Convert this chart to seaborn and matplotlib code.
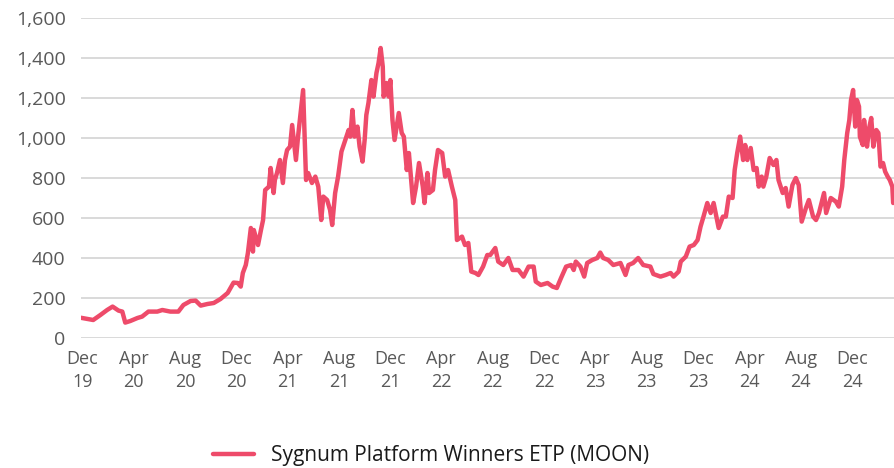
import matplotlib
matplotlib.use("Agg")
import matplotlib.pyplot as plt
import matplotlib.dates as mdates
from matplotlib.ticker import FuncFormatter, MultipleLocator
import seaborn as sns
import pandas as pd

# price index of the ETP
dates = [
    "2019-11-28", "2019-12-27", "2020-01-13", "2020-01-29", "2020-02-11", "2020-02-25",
    "2020-03-05", "2020-03-12", "2020-03-24", "2020-04-10", "2020-04-21", "2020-05-06",
    "2020-05-27", "2020-06-08", "2020-06-27", "2020-07-16", "2020-07-28", "2020-08-14",
    "2020-08-26", "2020-09-07", "2020-09-23", "2020-10-08", "2020-10-24", "2020-11-10",
    "2020-11-24", "2020-12-04", "2020-12-11", "2020-12-16", "2020-12-23", "2020-12-28",
    "2021-01-04", "2021-01-09", "2021-01-11", "2021-01-21", "2021-01-28", "2021-02-02",
    "2021-02-07", "2021-02-16", "2021-02-20", "2021-02-27", "2021-03-02", "2021-03-07",
    "2021-03-14", "2021-03-21", "2021-03-26", "2021-03-31", "2021-04-07", "2021-04-12",
    "2021-04-21", "2021-04-26", "2021-05-03", "2021-05-08", "2021-05-15", "2021-05-20",
    "2021-05-29", "2021-06-06", "2021-06-13", "2021-06-20", "2021-06-25", "2021-07-04",
    "2021-07-11", "2021-07-16", "2021-07-23", "2021-07-30", "2021-08-07", "2021-08-16",
    "2021-08-24", "2021-08-28", "2021-09-02", "2021-09-07", "2021-09-14", "2021-09-19",
    "2021-09-26", "2021-10-01", "2021-10-05", "2021-10-10", "2021-10-17", "2021-10-22",
    "2021-10-29", "2021-11-03", "2021-11-08", "2021-11-13", "2021-11-15", "2021-11-22",
    "2021-11-27", "2021-12-01", "2021-12-06", "2021-12-11", "2021-12-16", "2021-12-21",
    "2021-12-28", "2022-01-02", "2022-01-09", "2022-01-14", "2022-01-24", "2022-01-31",
    "2022-02-07", "2022-02-16", "2022-02-20", "2022-02-27", "2022-03-03", "2022-03-12",
    "2022-03-17", "2022-03-24", "2022-04-03", "2022-04-10", "2022-04-17", "2022-04-26",
    "2022-05-04", "2022-05-08", "2022-05-20", "2022-05-27", "2022-06-04", "2022-06-11",
    "2022-06-21", "2022-06-28", "2022-07-09", "2022-07-19", "2022-07-26", "2022-08-07",
    "2022-08-14", "2022-08-26", "2022-09-07", "2022-09-17", "2022-10-01", "2022-10-13",
    "2022-10-25", "2022-11-06", "2022-11-11", "2022-11-23", "2022-12-09", "2022-12-21",
    "2022-12-31", "2023-01-10", "2023-01-22", "2023-02-03", "2023-02-09", "2023-02-14",
    "2023-02-25", "2023-03-06", "2023-03-13", "2023-03-25", "2023-04-06", "2023-04-13",
    "2023-04-20", "2023-05-02", "2023-05-14", "2023-05-31", "2023-06-12", "2023-06-19",
    "2023-06-30", "2023-07-12", "2023-07-24", "2023-08-10", "2023-08-17", "2023-09-03",
    "2023-09-15", "2023-09-27", "2023-10-04", "2023-10-16", "2023-10-21", "2023-11-02",
    "2023-11-11", "2023-11-21", "2023-11-30", "2023-12-07", "2023-12-14", "2023-12-23",
    "2023-12-31", "2024-01-07", "2024-01-19", "2024-01-29", "2024-02-05", "2024-02-12",
    "2024-02-21", "2024-02-26", "2024-03-03", "2024-03-10", "2024-03-17", "2024-03-22",
    "2024-03-27", "2024-04-04", "2024-04-11", "2024-04-18", "2024-04-23", "2024-04-30",
    "2024-05-04", "2024-05-11", "2024-05-19", "2024-05-28", "2024-06-04", "2024-06-09",
    "2024-06-19", "2024-06-26", "2024-07-03", "2024-07-12", "2024-07-20", "2024-07-27",
    "2024-08-03", "2024-08-13", "2024-08-20", "2024-08-30", "2024-09-06", "2024-09-13",
    "2024-09-25", "2024-09-30", "2024-10-11", "2024-10-23", "2024-10-30", "2024-11-07",
    "2024-11-12", "2024-11-19", "2024-11-24", "2024-11-28", "2024-12-03", "2024-12-08",
    "2024-12-12", "2024-12-17", "2024-12-19", "2024-12-26", "2024-12-29", "2025-01-05",
    "2025-01-10", "2025-01-15", "2025-01-20", "2025-01-27", "2025-02-01", "2025-02-06",
    "2025-02-12", "2025-02-17", "2025-02-23", "2025-02-28", "2025-03-06", "2025-03-08",
]
values = [
    101, 90, 115, 140, 157, 137,
    132, 77, 85, 100, 107, 132,
    132, 140, 132, 132, 165, 185,
    187, 162, 170, 175, 195, 225,
    277, 275, 257, 325, 365, 425,
    550, 432, 540, 465, 540, 590,
    740, 757, 850, 725, 790, 825,
    890, 775, 890, 940, 957, 1065,
    890, 1007, 1140, 1240, 790, 825,
    775, 807, 757, 590, 707, 690,
    640, 565, 725, 807, 932, 990,
    1040, 1007, 1140, 1007, 1057, 957,
    882, 990, 1115, 1175, 1290, 1207,
    1325, 1375, 1450, 1357, 1207, 1275,
    1207, 1290, 1090, 990, 1057, 1125,
    1025, 1007, 840, 925, 675, 757,
    875, 757, 675, 825, 725, 740,
    840, 940, 925, 807, 840, 757,
    690, 490, 507, 465, 475, 332,
    325, 315, 357, 415, 415, 450,
    382, 365, 400, 340, 340, 307,
    357, 357, 282, 265, 275, 257,
    250, 300, 357, 365, 340, 382,
    357, 307, 375, 390, 400, 427,
    400, 390, 365, 375, 315, 365,
    375, 400, 365, 357, 320, 307,
    315, 325, 307, 332, 382, 407,
    457, 465, 490, 557, 607, 675,
    625, 675, 550, 607, 607, 707,
    700, 840, 925, 1007, 890, 965,
    890, 950, 840, 850, 757, 807,
    757, 807, 900, 865, 890, 790,
    725, 750, 657, 765, 800, 765,
    582, 650, 690, 607, 590, 625,
    725, 625, 700, 682, 657, 757,
    890, 1025, 1090, 1190, 1240, 1057,
    1190, 1157, 1007, 965, 1090, 957,
    1050, 1100, 957, 1040, 1025, 857,
    875, 832, 807, 790, 757, 675,
]
series_name = "Sygnum Platform Winners ETP (MOON)"

df = pd.DataFrame({"date": pd.to_datetime(dates), "value": values, "series": series_name})

sns.set_style("white")
plt.rcParams["font.family"] = ["Open Sans", "DejaVu Sans"]

fig = plt.figure(figsize=(8.94, 4.68), dpi=100)
ax = fig.add_axes([0.0906, 0.2778, 0.9094, 0.6837])

sns.lineplot(data=df, x="date", y="value", hue="series", palette=["#EE4B6A"],
             linewidth=3.2, ax=ax, legend=True)

ax.set_ylim(0, 1600)
ax.set_xlim(pd.Timestamp("2019-11-28"), pd.Timestamp("2025-03-10"))
ax.yaxis.set_major_locator(MultipleLocator(200))
ax.yaxis.set_major_formatter(FuncFormatter(lambda v, p: f"{int(v):,}"))
ax.xaxis.set_major_locator(mdates.MonthLocator(bymonth=[4, 8, 12], bymonthday=1))
ax.xaxis.set_major_formatter(mdates.DateFormatter("%b\n%y"))

ax.grid(axis="y", color="#D9D9D9", linewidth=1.4)
ax.grid(axis="x", visible=False)
ax.set_axisbelow(True)
for s in ax.spines.values():
    s.set_visible(False)
ax.tick_params(axis="both", length=0, labelcolor="#595959")
ax.tick_params(axis="x", pad=9, labelsize=13)
ax.tick_params(axis="y", pad=11, labelsize=14)
for lbl in ax.get_xticklabels():
    lbl.set_linespacing(1.3)
ax.set_xlabel("")
ax.set_ylabel("")

handles, labels = ax.get_legend_handles_labels()
ax.get_legend().remove()
leg = fig.legend(handles, labels, loc="center", bbox_to_anchor=(431 / 894, 1 - 456 / 468),
                 frameon=False, fontsize=15, handlelength=2.0, handletextpad=0.8)
for t in leg.get_texts():
    t.set_color("#1A1A1A")

fig.savefig("out.png", dpi=100)
